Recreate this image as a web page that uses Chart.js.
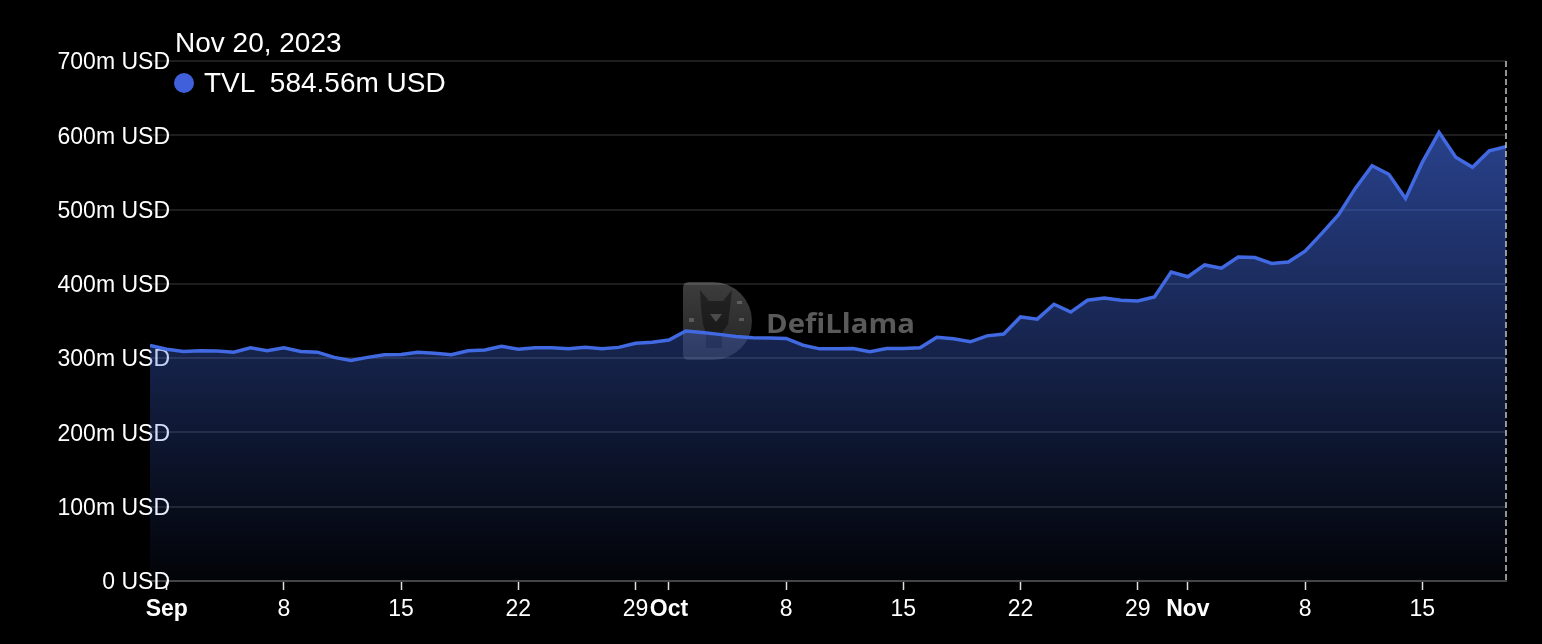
<!DOCTYPE html>
<html>
<head>
<meta charset="utf-8">
<title>TVL</title>
<script src="https://cdn.jsdelivr.net/npm/chart.js@4.4.0/dist/chart.umd.min.js"></script>
<style>
  html, body { margin: 0; padding: 0; background: #000; }
  #wrap { position: relative; width: 1542px; height: 644px; }
  #tvlChart { position: absolute; left: 0; top: 0; }
  .tip { position: absolute; color: #fff; font-family: "Liberation Sans", Arial, sans-serif; font-size: 28px; line-height: 28px; white-space: pre; }
  #tipDate { left: 175px; top: 29px; }
  #tipRow { left: 174px; top: 69px; }
  #tipDot { display: inline-block; width: 20px; height: 20px; border-radius: 50%; background: #3f5fdb; margin-right: 10px; vertical-align: -1px; }
</style>
</head>
<body>
<div id="wrap">
  <canvas id="tvlChart" width="1542" height="644"></canvas>
  <div class="tip" id="tipDate">Nov 20, 2023</div>
  <div class="tip" id="tipRow"><span id="tipDot"></span>TVL  584.56m USD</div>
</div>
<script>
// daily TVL in millions of USD, Aug 31 -> Nov 20, 2023 (index 0 = Aug 31)
const tvlValues = [
  317, 312, 309, 310, 309.5, 308, 314, 310, 314, 309,
  308, 301, 297, 301, 304.5, 305, 308, 306.5, 304.5, 310,
  311, 316, 312, 314, 314, 312.5, 314.5, 312.5, 314.5, 320,
  321.5, 324.5, 336.5, 334.5, 332, 329, 327.5, 327, 326.5, 317.5,
  312.5, 312.5, 313, 308.5, 313, 313, 314, 328, 326, 322,
  330, 332.5, 355.5, 352.5, 372.5, 362, 378, 381, 378, 377,
  382.5, 416, 409.5, 425.5, 421, 436, 435.5, 427.5, 429.5, 444,
  468, 493, 528.5, 559, 547.5, 515, 563.5, 604, 570.5, 557,
  579, 584.56
];

// x ticks: day index and label
const tickDays = [1, 8, 15, 22, 29, 31, 38, 45, 52, 59, 62, 69, 76];
const tickLabels = ['Sep', '8', '15', '22', '29', 'Oct', '8', '15', '22', '29', 'Nov', '8', '15'];
const monthLabels = ['Sep', 'Oct', 'Nov'];

const yTickValues = [0, 100, 200, 300, 400, 500, 600, 700];
const yTickLabels = ['0 USD', '100m USD', '200m USD', '300m USD', '400m USD', '500m USD', '600m USD', '700m USD'];

const lineColor = '#4169e1';
const fontFamily = "'Liberation Sans', Arial, Helvetica, sans-serif";
const yFont = { family: fontFamily, size: 23 };

// y labels sit over the plot, right edge 20px inside it
const measureCtx = document.createElement('canvas').getContext('2d');
measureCtx.font = `${yFont.size}px ${yFont.family}`;
const widestY = Math.max(...yTickLabels.map(t => measureCtx.measureText(t).width));

const watermark = {
    id: 'watermark',
    beforeDatasetsDraw(chart) {
        const c = chart.ctx;
        c.save();
        // D shaped badge
        const g = c.createLinearGradient(0, 282, 0, 360);
        g.addColorStop(0, 'rgba(255,255,255,0.24)');
        g.addColorStop(1, 'rgba(255,255,255,0.14)');
        c.fillStyle = g;
        c.beginPath();
        c.moveTo(689, 282);
        c.lineTo(713, 282);
        c.arc(713, 321, 39, -Math.PI / 2, Math.PI / 2);
        c.lineTo(689, 360);
        c.quadraticCurveTo(683, 360, 683, 354);
        c.lineTo(683, 288);
        c.quadraticCurveTo(683, 282, 689, 282);
        c.fill();
        // llama head
        c.fillStyle = 'rgba(0,0,0,0.4)';
        c.beginPath();
        c.moveTo(700, 290); c.lineTo(709, 301); c.lineTo(723, 301); c.lineTo(732, 290);
        c.lineTo(730, 308); c.lineTo(728, 324); c.lineTo(722, 333); c.lineTo(722, 348);
        c.lineTo(706, 348); c.lineTo(706, 333); c.lineTo(703, 324); c.lineTo(701, 308);
        c.closePath();
        c.fill();
        c.fillStyle = 'rgba(255,255,255,0.2)';
        c.beginPath();
        c.moveTo(710, 314); c.lineTo(722, 314); c.lineTo(716, 322); c.closePath();
        c.fill();
        c.fillRect(689, 318, 5, 4);
        c.fillRect(739, 318, 5, 3);
        c.fillRect(737, 301, 5, 3);
        // text
        c.fillStyle = '#5a5a5a';
        c.font = "bold 26px 'Open Sans', sans-serif";
        c.textBaseline = 'alphabetic';
        const w = c.measureText('DefiLlama').width;
        c.translate(766, 333);
        c.scale(149 / w, 1);
        c.fillText('DefiLlama', 0, 0);
        c.restore();
    }
};

const crosshair = {
    id: 'crosshair',
    afterDatasetsDraw(chart) {
        const meta = chart.getDatasetMeta(0);
        const last = meta.data[meta.data.length - 1];
        const area = chart.chartArea;
        const c = chart.ctx;
        c.save();
        c.strokeStyle = 'rgba(215,215,215,0.9)';
        c.lineWidth = 1.5;
        c.setLineDash([6, 3]);
        c.beginPath();
        c.moveTo(last.x, area.top);
        c.lineTo(last.x, area.bottom);
        c.stroke();
        c.restore();
    }
};

const maxValue = Math.max(...tvlValues);

new Chart(document.getElementById('tvlChart'), {
    type: 'line',
    data: {
        datasets: [{
            data: tvlValues.map((v, i) => ({ x: i, y: v })),
            borderColor: lineColor,
            borderWidth: 3.5,
            pointRadius: 0,
            tension: 0,
            fill: 'origin',
            backgroundColor: function(context) {
                const chart = context.chart;
                if (!chart.chartArea) return 'rgba(65,105,225,0.3)';
                const top = chart.scales.y.getPixelForValue(maxValue);
                const g = chart.ctx.createLinearGradient(0, top, 0, chart.chartArea.bottom);
                g.addColorStop(0, 'rgba(65,105,225,0.62)');
                g.addColorStop(1, 'rgba(65,105,225,0.03)');
                return g;
            }
        }]
    },
    options: {
        responsive: false,
        animation: false,
        layout: { padding: { left: 20, right: 36, top: 61, bottom: 0 } },
        plugins: {
            legend: { display: false },
            tooltip: { enabled: false }
        },
        scales: {
            x: {
                type: 'linear',
                min: 0,
                max: tvlValues.length - 1,
                afterBuildTicks: (axis) => { axis.ticks = tickDays.map(v => ({ value: v })); },
                afterFit: (scale) => { scale.height = 63; },
                grid: {
                    drawOnChartArea: false,
                    drawTicks: true,
                    tickLength: 9,
                    tickColor: '#e0e0e0',
                    tickWidth: 1.5
                },
                border: { display: true, color: '#444444', width: 2 },
                ticks: {
                    autoSkip: false,
                    maxRotation: 0,
                    minRotation: 0,
                    padding: 6,
                    color: '#ffffff',
                    font: (ctx) => ({
                        family: fontFamily,
                        size: 23,
                        weight: ctx.tick && monthLabels.includes(ctx.tick.label) ? 'bold' : 'normal'
                    }),
                    callback: (value) => {
                        const k = tickDays.indexOf(value);
                        return k >= 0 ? tickLabels[k] : null;
                    }
                }
            },
            y: {
                min: 0,
                max: 700,
                afterBuildTicks: (axis) => { axis.ticks = yTickValues.map(v => ({ value: v })); },
                afterFit: (scale) => { scale.width = 130; },
                grid: { color: '#1d1d1d', lineWidth: 2, drawTicks: false },
                border: { display: false },
                ticks: {
                    mirror: true,
                    crossAlign: 'far',
                    padding: 20 - widestY,
                    labelOffset: 2,
                    color: '#ffffff',
                    font: yFont,
                    callback: (value) => yTickLabels[yTickValues.indexOf(value)]
                }
            }
        }
    },
    plugins: [watermark, crosshair]
});
</script>
</body>
</html>
